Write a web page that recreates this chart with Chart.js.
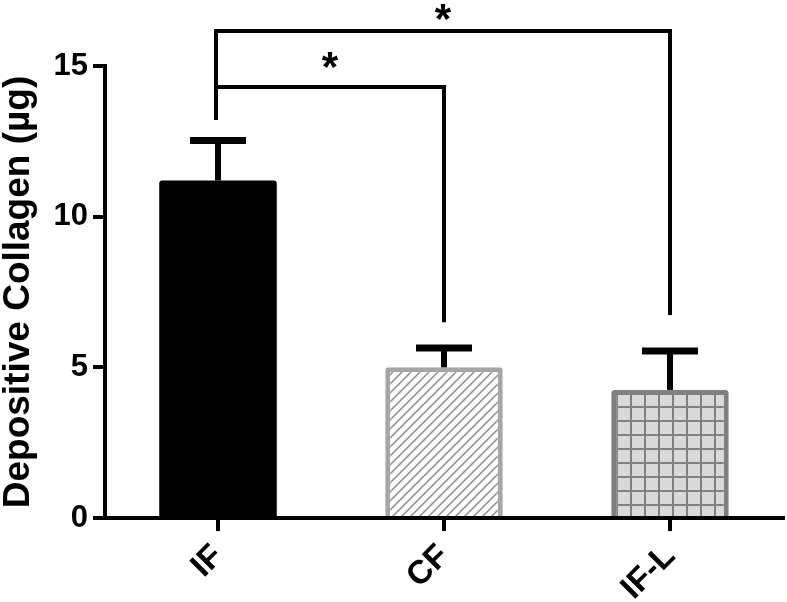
<!DOCTYPE html>
<html>
<head>
<meta charset="utf-8">
<script src="https://cdn.jsdelivr.net/npm/chart.js@4.4.0/dist/chart.umd.min.js"></script>
<style>
    body { margin: 0; background: #fff; }
    #wrap { width: 787px; height: 602px; position: relative; }
</style>
</head>
<body>
<div id="wrap"><canvas id="collagenChart"></canvas></div>
<script>
// values
var categories = ["IF", "CF", "IF-L"];
var means = [11.2, 5.0, 4.25];
var errors = [1.33, 0.64, 1.29];
var yTicks = [0, 5, 10, 15];

// significance brackets: IF vs CF, IF vs IF-L
var bracketFrom = [0, 0];
var bracketTo = [1, 2];
var bracketLevel = [14.3, 16.16];
var bracketStart = [13.21, 13.21];
var bracketEnd = [6.5, 6.74];
var starLevel = [15.2, 16.8];
var starText = ["*", "*"];

var FONT = "'Liberation Sans', Arial, sans-serif";

function hatchPattern() {
    var c = document.createElement("canvas");
    c.width = 9; c.height = 9;
    var g = c.getContext("2d");
    g.fillStyle = "#fff";
    g.fillRect(0, 0, 9, 9);
    g.strokeStyle = "#8c8c8c";
    g.lineWidth = 1.5;
    g.beginPath();
    g.moveTo(-1, 10); g.lineTo(10, -1);
    g.moveTo(-1, 1); g.lineTo(1, -1);
    g.moveTo(8, 10); g.lineTo(10, 8);
    g.stroke();
    return g.createPattern(c, "repeat");
}

function gridPattern() {
    var c = document.createElement("canvas");
    c.width = 14; c.height = 14;
    var g = c.getContext("2d");
    g.fillStyle = "#d9d9d9";
    g.fillRect(0, 0, 14, 14);
    g.fillStyle = "#808080";
    g.fillRect(0, 0, 14, 2);
    g.fillRect(0, 0, 2, 14);
    return g.createPattern(c, "repeat");
}

var extras = {
    id: "extras",
    afterDatasetsDraw: function (chart) {
        var ctx = chart.ctx;
        var y = chart.scales.y;
        var bars = chart.getDatasetMeta(0).data;
        ctx.save();
        ctx.strokeStyle = "#000";
        ctx.fillStyle = "#000";

        // error bars (upper only)
        for (var i = 0; i < means.length; i++) {
            var x = bars[i].x;
            var y0 = y.getPixelForValue(means[i]);
            var y1 = y.getPixelForValue(means[i] + errors[i]);
            ctx.lineWidth = 6;
            ctx.beginPath();
            ctx.moveTo(x, y0);
            ctx.lineTo(x, y1);
            ctx.stroke();
            ctx.lineWidth = 7;
            ctx.beginPath();
            ctx.moveTo(x - 28, y1);
            ctx.lineTo(x + 28, y1);
            ctx.stroke();
        }

        // brackets
        ctx.lineWidth = 4;
        ctx.lineJoin = "miter";
        for (var b = 0; b < bracketFrom.length; b++) {
            var xa = bars[bracketFrom[b]].x - 2;
            var xb = bars[bracketTo[b]].x;
            var yl = y.getPixelForValue(bracketLevel[b]);
            ctx.beginPath();
            ctx.moveTo(xa, y.getPixelForValue(bracketStart[b]));
            ctx.lineTo(xa, yl);
            ctx.lineTo(xb, yl);
            ctx.lineTo(xb, y.getPixelForValue(bracketEnd[b]));
            ctx.stroke();

            ctx.font = "bold 42px " + FONT;
            ctx.textAlign = "center";
            ctx.textBaseline = "alphabetic";
            var m = ctx.measureText(starText[b]);
            var yc = y.getPixelForValue(starLevel[b]);
            var base = yc + (m.actualBoundingBoxAscent - m.actualBoundingBoxDescent) / 2;
            ctx.fillText(starText[b], (xa + xb) / 2, base);
        }
        ctx.restore();
    }
};

var chart = new Chart("collagenChart", {
    type: "bar",
    data: {
        labels: categories,
        datasets: [
            {
                data: means,
                backgroundColor: ["#000000", hatchPattern(), gridPattern()],
                borderColor: ["#000000", "#a6a6a6", "#808080"],
                borderWidth: [0, 5, 5],
                borderRadius: 3,
                borderSkipped: "start",
                barPercentage: 0.52,
                categoryPercentage: 1
            }
        ]
    },
    options: {
        responsive: true,
        maintainAspectRatio: false,
        animation: false,
        layout: { padding: { top: 66, right: 4, left: 0, bottom: 0 }, autoPadding: false },
        plugins: {
            legend: { display: false },
            tooltip: { enabled: false }
        },
        scales: {
            x: {
                afterFit: function (s) { s.height = 84; },
                border: { display: true, color: "#000", width: 4 },
                grid: { drawOnChartArea: false, drawTicks: true, tickLength: 13, lineWidth: 4, color: "#000", offset: false },
                ticks: {
                    color: "#000",
                    font: { family: FONT, size: 33, weight: "bold" },
                    minRotation: 45,
                    maxRotation: 45,
                    padding: 6
                }
            },
            y: {
                min: 0,
                max: 15,
                afterFit: function (s) { s.width = 105; },
                afterBuildTicks: function (s) {
                    s.ticks = yTicks.map(function (v) { return { value: v }; });
                },
                border: { display: true, color: "#000", width: 4 },
                grid: { drawOnChartArea: false, drawTicks: true, tickLength: 12, lineWidth: 4, color: "#000" },
                ticks: {
                    color: "#000",
                    font: { family: FONT, size: 31, weight: "bold" },
                    padding: 5
                },
                title: {
                    display: true,
                    text: "Depositive Collagen (µg)",
                    color: "#000",
                    font: { family: FONT, size: 37, weight: "bold", lineHeight: 1 },
                    padding: { top: 0, bottom: 0 }
                }
            }
        }
    },
    plugins: [extras]
});
</script>
</body>
</html>
